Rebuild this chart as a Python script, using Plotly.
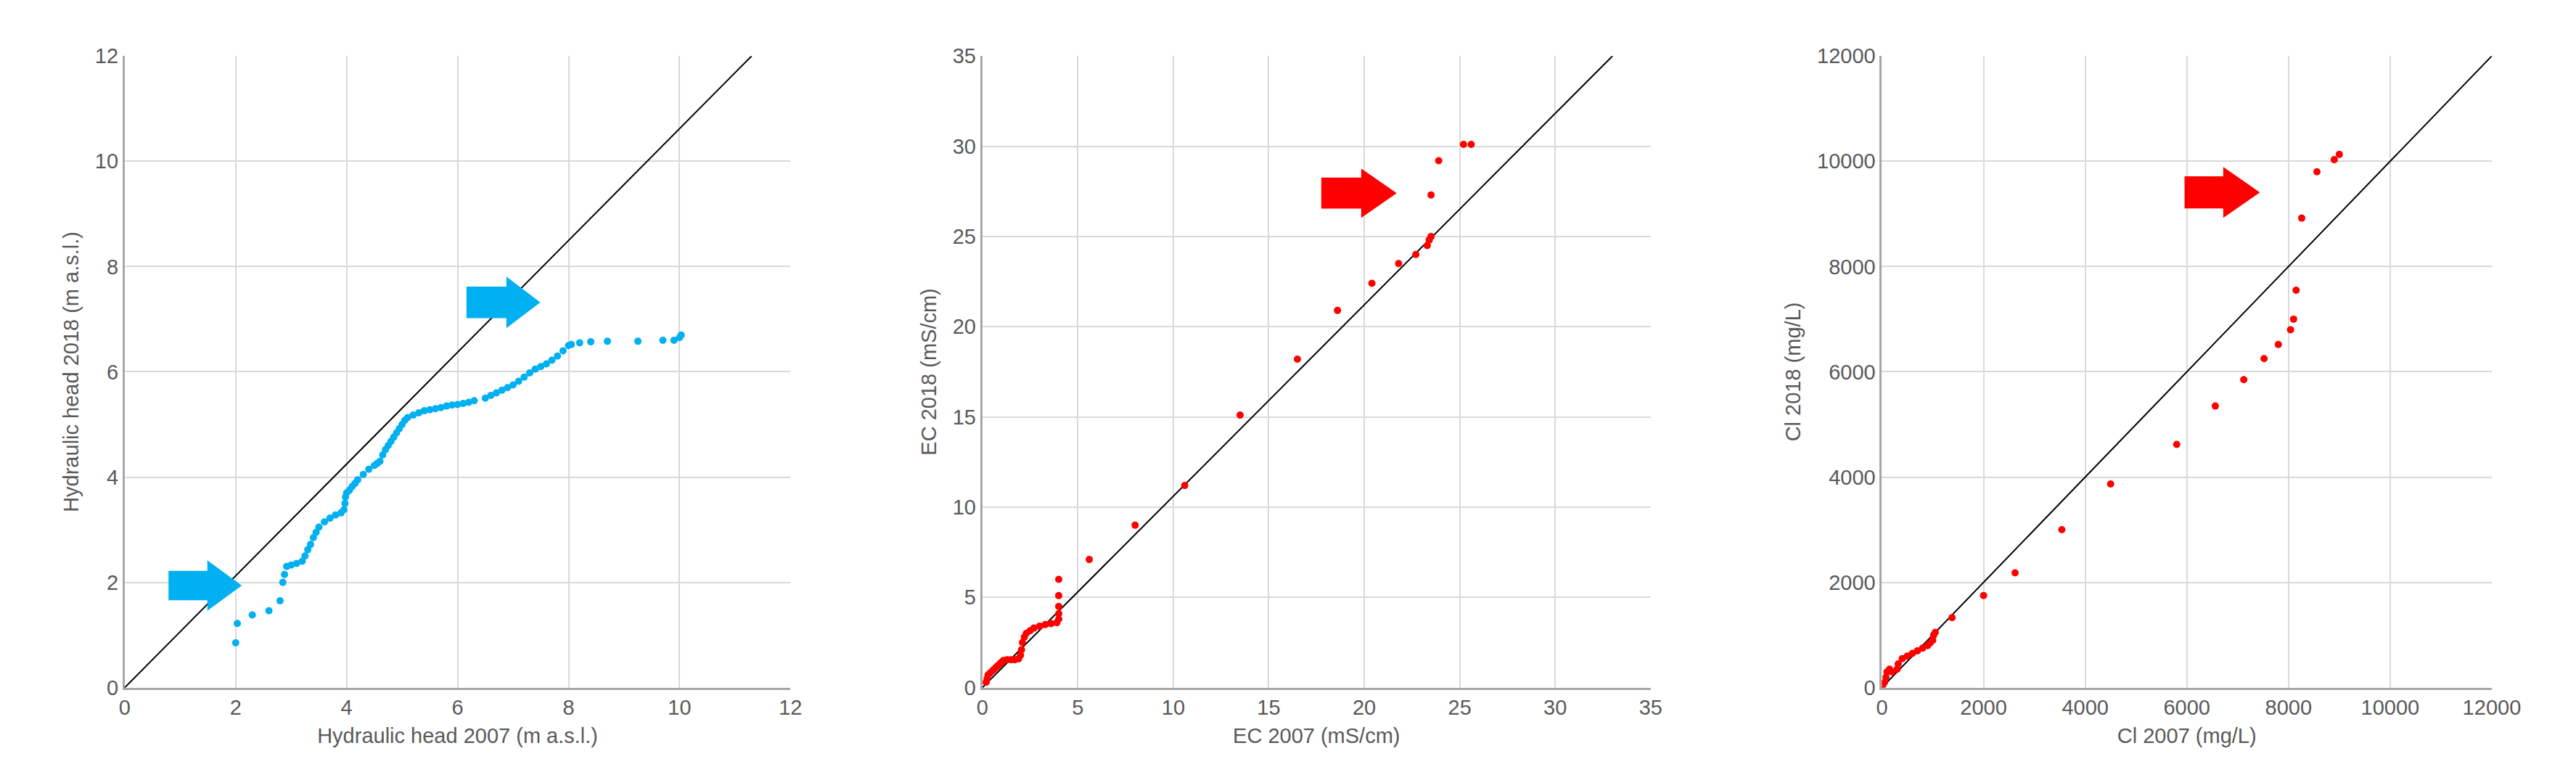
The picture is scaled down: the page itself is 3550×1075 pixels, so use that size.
import plotly.graph_objects as go

# Panel 1: hydraulic head
hh_2007 = [2.0, 2.03, 2.3, 2.6, 2.8, 2.85, 2.88, 2.92, 3.0, 3.1, 3.2, 3.25, 3.3, 3.35, 3.4, 3.45, 3.5, 3.6, 3.7, 3.8, 3.9,
           3.95, 3.97, 3.98, 4.0, 4.05, 4.1, 4.15, 4.2, 4.3, 4.4, 4.5, 4.55, 4.6, 4.65, 4.7, 4.75, 4.8, 4.85, 4.9, 4.95,
           5.0, 5.05, 5.1, 5.2, 5.3, 5.4, 5.5, 5.6, 5.7, 5.8, 5.9, 6.0, 6.1, 6.2, 6.3, 6.5, 6.6, 6.7, 6.8, 6.9, 7.0,
           7.1, 7.2, 7.3, 7.4, 7.5, 7.6, 7.7, 7.8, 7.9, 8.0, 8.05, 8.2, 8.4, 8.7, 9.25, 9.7, 9.9, 10.0, 10.03]
hh_2018 = [0.85, 1.22, 1.38, 1.46, 1.65, 2.0, 2.15, 2.3, 2.33, 2.36, 2.4, 2.5, 2.62, 2.72, 2.85, 2.95, 3.05, 3.15, 3.22, 3.28, 3.32,
           3.38, 3.5, 3.62, 3.7, 3.75, 3.82, 3.88, 3.95, 4.05, 4.15, 4.22, 4.26, 4.3, 4.42, 4.52, 4.6, 4.68, 4.76, 4.84, 4.92,
           5.0, 5.08, 5.13, 5.18, 5.22, 5.26, 5.28, 5.3, 5.32, 5.35, 5.37, 5.38, 5.4, 5.42, 5.45, 5.5, 5.55, 5.6, 5.65, 5.7, 5.75,
           5.82, 5.9, 5.98, 6.05, 6.1, 6.15, 6.22, 6.3, 6.4, 6.5, 6.52, 6.55, 6.57, 6.58, 6.58, 6.6, 6.6, 6.65, 6.7]

# Panel 2: EC
ec_2007 = [0.2, 0.25, 0.3, 0.4, 0.5, 0.6, 0.7, 0.8, 0.9, 1.0, 1.1, 1.3, 1.5, 1.7, 1.9, 2.0, 2.05, 2.1, 2.2, 2.3, 2.5, 2.7, 3.0,
           3.3, 3.6, 3.9, 4.0, 4.0, 4.0, 4.0, 4.0, 5.6, 8.0, 10.6, 13.5, 16.5, 18.6, 20.4, 21.8, 22.7, 23.3, 23.4, 23.5,
           23.5, 23.9, 25.2, 25.6]
ec_2018 = [0.3, 0.5, 0.7, 0.8, 0.9, 1.0, 1.1, 1.2, 1.3, 1.4, 1.5, 1.55, 1.55, 1.55, 1.6, 1.8, 2.1, 2.5, 2.8, 3.0, 3.15, 3.3, 3.4,
           3.5, 3.55, 3.6, 3.8, 4.1, 4.5, 5.1, 6.0, 7.1, 9.0, 11.2, 15.1, 18.2, 20.9, 22.4, 23.5, 24.0, 24.5, 24.8, 25.0,
           27.3, 29.2, 30.1, 30.1]

# Panel 3: Cl
cl_2007 = [20, 50, 80, 100, 150, 200, 300, 320, 400, 500, 600, 700, 800, 900, 950, 1000, 1020, 1050, 1380, 2000, 2620,
           3540, 4500, 5800, 6560, 7120, 7520, 7800, 8040, 8100, 8150, 8260, 8560, 8900, 9000]
cl_2018 = [50, 100, 200, 300, 350, 300, 350, 450, 550, 600, 650, 700, 750, 800, 850, 900, 1000, 1050, 1330, 1750, 2180,
           3000, 3870, 4620, 5350, 5850, 6250, 6520, 6800, 7000, 7550, 8920, 9800, 10030, 10130]

BLUE = "#00B0F0"
RED = "#FF0000"
TXT = "#595959"
FONT = "Liberation Sans"

fig = go.Figure()
panels = [
    (hh_2007, hh_2018, BLUE, [0, 11.3], [0, 12], "x", "y"),
    (ec_2007, ec_2018, RED, [0, 33], [0, 35], "x2", "y2"),
    (cl_2007, cl_2018, RED, [0, 12000], [0, 12000], "x3", "y3"),
]
for xs, ys, col, lx, ly, xa, ya in panels:
    fig.add_trace(go.Scatter(x=lx, y=ly, mode="lines", line=dict(color="black", width=2),
                             xaxis=xa, yaxis=ya, showlegend=False, hoverinfo="skip"))
    fig.add_trace(go.Scatter(x=xs, y=ys, mode="markers", marker=dict(color=col, size=10),
                             xaxis=xa, yaxis=ya, showlegend=False))

def arrow(xa, ya, x0, xh, x1, yc, hs, hh, col):
    path = (f"M {x0},{yc-hs} L {xh},{yc-hs} L {xh},{yc-hh} L {x1},{yc} "
            f"L {xh},{yc+hh} L {xh},{yc+hs} L {x0},{yc+hs} Z")
    fig.add_shape(type="path", path=path, xref=xa, yref=ya, fillcolor=col, line=dict(width=0))

arrow("x", "y", 0.79, 1.49, 2.11, 1.94, 0.28, 0.48, BLUE)
arrow("x", "y", 6.16, 6.88, 7.49, 7.32, 0.3, 0.49, BLUE)
arrow("x2", "y2", 17.75, 19.84, 21.7, 27.4, 0.86, 1.37, RED)
arrow("x3", "y3", 5955, 6716, 7437, 9409, 305, 483, RED)

def ax(domain, rng, dt, title, anchor):
    return dict(domain=domain, range=rng, dtick=dt, anchor=anchor, tickformat="d",
                showgrid=True, gridcolor="#D9D9D9", gridwidth=2,
                showline=True, linecolor="#A6A6A6", linewidth=3,
                zeroline=False, ticks="", tickfont=dict(size=29, color=TXT, family=FONT),
                title=dict(text=title, font=dict(size=29, color=TXT, family=FONT), standoff=14))

yd = [0.1144, 0.949]
fig.update_layout(
    width=3550, height=1075, paper_bgcolor="white", plot_bgcolor="white",
    margin=dict(l=0, r=0, t=0, b=0),
    xaxis=ax([0.0445, 0.3065], [0, 12], 2, "Hydraulic head 2007 (m a.s.l.)", "y"),
    yaxis=ax(yd, [0, 12], 2, "Hydraulic head 2018 (m a.s.l.)", "x"),
    xaxis2=ax([0.382, 0.645], [0, 35], 5, "EC 2007 (mS/cm)", "y2"),
    yaxis2=ax(yd, [0, 35], 5, "EC 2018 (mS/cm)", "x2"),
    xaxis3=ax([0.736, 0.976], [0, 12000], 2000, "Cl 2007 (mg/L)", "y3"),
    yaxis3=ax(yd, [0, 12000], 2000, "Cl 2018 (mg/L)", "x3"),
)
fig.write_html("out.html")
